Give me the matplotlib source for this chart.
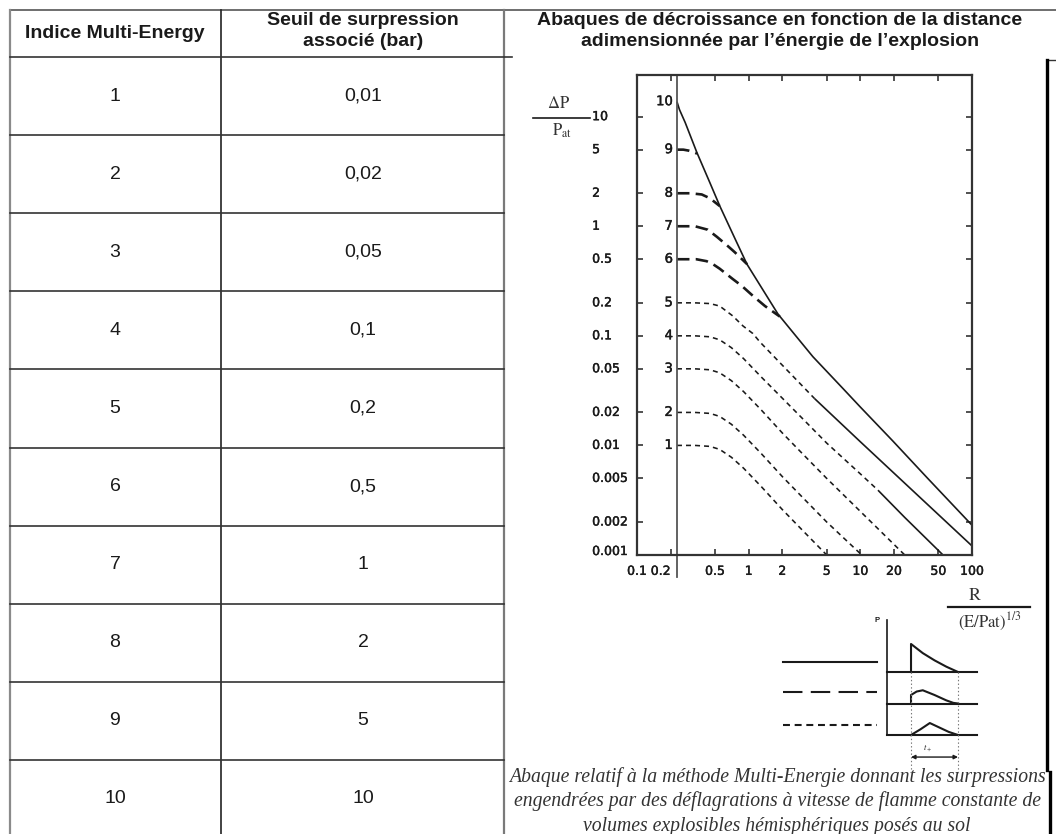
import numpy as np
import matplotlib
matplotlib.use('Agg')
import matplotlib.pyplot as plt
import matplotlib.patheffects as pe
from matplotlib.ticker import NullLocator

plt.rcParams['font.family'] = ['Liberation Sans', 'DejaVu Sans']
plt.rcParams['mathtext.fontset'] = 'stix'
plt.rcParams['lines.scale_dashes'] = False

W, H = 1056, 834
ink = '#1a1a1a'

# --- tableau ---
indices = ['1', '2', '3', '4', '5', '6', '7', '8', '9', '10']
seuils = ['0,01', '0,02', '0,05', '0,1', '0,2', '0,5', '1', '2', '5', '10']
header_1 = 'Indice Multi-Energy'
header_2 = 'Seuil de surpression\nassocié (bar)'
header_3 = ('Abaques de décroissance en fonction de la distance\n'
            'adimensionnée par l\u2019énergie de l\u2019explosion')
caption = ['Abaque relatif à la méthode Multi-Energie donnant les surpressions',
           'engendrées par des déflagrations à vitesse de flamme constante de',
           'volumes explosibles hémisphériques posés au sol']

# --- abaque multi-energie ---
x_tick_vals = [0.2, 0.5, 1, 2, 5, 10, 20, 50]
x_label_vals = [0.1, 0.2, 0.5, 1, 2, 5, 10, 20, 50, 100]
x_labels = ['0.1', '0.2', '0.5', '1', '2', '5', '10', '20', '50', '100']
y_tick_vals = [10, 5, 2, 1, 0.5, 0.2, 0.1, 0.05, 0.02, 0.01, 0.005, 0.002]
y_label_vals = [10, 5, 2, 1, 0.5, 0.2, 0.1, 0.05, 0.02, 0.01, 0.005, 0.002, 0.001]
y_labels = ['10', '5', '2', '1', '0.5', '0.2', '0.1', '0.05', '0.02', '0.01',
            '0.005', '0.002', '0.001']

r0 = 0.228

c10_x = [0.228, 0.24, 0.27, 0.344, 0.45, 0.553, 0.75, 0.966, 1.35, 1.83, 2.6,
         3.76, 7, 10, 19.5, 40, 100]
c10_y = [13.7, 11.6, 8.85, 4.7, 2.49, 1.52, 0.78, 0.45, 0.26, 0.158, 0.102,
         0.0645, 0.033, 0.0224, 0.011, 0.00502, 0.00187]
c9_x = [0.228, 0.26, 0.29, 0.32, 0.345]
c9_y = [5.0, 5.0, 4.9, 4.75, 4.6]
c8_x = [0.228, 0.30, 0.38, 0.45, 0.55]
c8_y = [2.0, 2.0, 1.95, 1.8, 1.53]
c7_x = [0.228, 0.33, 0.43, 0.52, 0.65, 0.75, 0.97]
c7_y = [1.0, 1.0, 0.93, 0.8, 0.66, 0.58, 0.45]
c6_x = [0.228, 0.34, 0.42, 0.48, 0.55, 0.72, 0.87, 1.1, 1.4, 1.9]
c6_y = [0.5, 0.5, 0.48, 0.45, 0.41, 0.33, 0.285, 0.23, 0.187, 0.15]
c5_x = [0.228, 0.33, 0.45, 0.55, 0.72, 0.89, 1.09, 1.26, 2.0, 3.9, 10, 30, 100]
c5_y = [0.2, 0.2, 0.197, 0.187, 0.152, 0.123, 0.105, 0.088, 0.054, 0.0267,
        0.0108, 0.0038, 0.00121]
c4_x = [0.228, 0.33, 0.45, 0.55, 0.7, 0.9, 1.3, 2.0, 3.0, 5.0, 10, 14.4, 25, 55]
c4_y = [0.1, 0.1, 0.098, 0.092, 0.078, 0.062, 0.042, 0.027, 0.0178, 0.0105,
        0.0055, 0.0039, 0.0022, 0.001]
c3_x = [0.228, 0.33, 0.45, 0.55, 0.7, 0.9, 1.3, 2.0, 3.0, 5.0, 10, 25]
c3_y = [0.05, 0.05, 0.049, 0.046, 0.039, 0.031, 0.021, 0.013, 0.0085, 0.005,
        0.0025, 0.001]
c2_x = [0.228, 0.33, 0.45, 0.55, 0.7, 0.9, 1.3, 2.0, 3.0, 5.0, 10.3]
c2_y = [0.02, 0.02, 0.0196, 0.0184, 0.0156, 0.0124, 0.0084, 0.0052, 0.0034,
        0.002, 0.001]
c1_x = [0.228, 0.33, 0.45, 0.55, 0.7, 0.9, 1.3, 2.0, 3.0, 5.0]
c1_y = [0.01, 0.01, 0.0098, 0.0092, 0.0078, 0.0062, 0.0042, 0.0026, 0.0017, 0.001]
c5_solid_from = 3.9
c4_solid_from = 14.4

# --- schema P(t) ---
shock_t = [0, 0, 0.25, 0.5, 0.75, 1.0]
shock_p = [0, 0.89, 0.6, 0.37, 0.17, 0]
press_t = [0, 0, 0.12, 0.25, 0.5, 0.75, 0.9, 1.0]
press_p = [0, 0.27, 0.38, 0.42, 0.27, 0.1, 0.02, 0]
sonic_t = [0, 0.2, 0.4, 0.6, 0.8, 1.0]
sonic_p = [0, 0.18, 0.38, 0.24, 0.1, 0]

fig = plt.figure(figsize=(W / 100, H / 100), dpi=100)

bg = fig.add_axes([0, 0, 1, 1])
bg.set_xlim(0, W)
bg.set_ylim(H, 0)
bg.axis('off')

# grille du tableau
row_top, row_h = 57, 78.1
bg.plot([10, W], [10, 10], color='#555555', lw=1.2)
bg.plot([10, 10], [10, H], color='#8a8a8a', lw=1.6)
bg.plot([221, 221], [10, H], color='#222222', lw=1.2)
bg.plot([504, 504], [10, H], color='#7a7a7a', lw=1.6)
bg.plot([10, 512], [row_top, row_top], color='#333333', lw=1.2)
for i in range(1, len(indices)):
    y = row_top + i * row_h
    bg.plot([10, 504], [y, y], color='#333333', lw=1.2)

bg.text(115, 33, header_1, ha='center', va='center', fontsize=14,
        fontweight='bold', color=ink)
bg.text(363, 31, header_2, ha='center', va='center', fontsize=14,
        fontweight='bold', color=ink, linespacing=1.28)
bg.text(780, 31, header_3, ha='center', va='center', fontsize=14,
        fontweight='bold', color=ink, linespacing=1.28)
for i, (a, b) in enumerate(zip(indices, seuils)):
    yc = row_top + (i + 0.5) * row_h
    bg.text(115, yc, a, ha='center', va='center', fontsize=14, color=ink)
    bg.text(363, yc, b, ha='center', va='center', fontsize=14, color=ink)

# cadre de l'image à droite
bg.plot([1047, W], [60, 60], color='#333333', lw=1.0)
bg.plot([1047, 1047], [60, 770], color='black', lw=2.4)
bg.plot([1050, 1050], [772, H], color='black', lw=2.4)

for k, line in enumerate(caption):
    bg.text(777, 777 + 24.5 * k, line, ha='center', va='center',
            family='Liberation Serif', style='italic', fontsize=14.2, color='#333333')

# titres des axes
bg.text(559, 103, r'$\Delta\mathrm{P}$', ha='center', va='center', fontsize=12, color='#333333')
bg.plot([533, 590], [118, 118], color=ink, lw=1.2)
bg.text(562, 131, r'$\mathrm{P}_{\mathrm{at}}$', ha='center', va='center', fontsize=12, color='#333333')
bg.text(975, 595, r'$\mathrm{R}$', ha='center', va='center', fontsize=13, color='#333333')
bg.plot([948, 1030], [607, 607], color=ink, lw=1.6)
bg.text(990, 622, r'$\mathrm{(E/Pat)}^{1/3}$', ha='center', va='center', fontsize=12, color='#333333')

# --- abaque ---
ax = fig.add_axes([637 / W, 1 - 555 / H, 335 / W, 480 / H])
ax.set_xscale('log')
ax.set_yscale('log')
ax.set_xlim(0.1, 100)
ax.set_ylim(0.001, 24)
ax.set_xticks(x_tick_vals)
ax.set_yticks(y_tick_vals)
ax.xaxis.set_minor_locator(NullLocator())
ax.yaxis.set_minor_locator(NullLocator())
ax.tick_params(which='both', direction='in', length=4, width=1.2, color='#333333',
               top=True, right=True, labelbottom=False, labelleft=False)
for s in ax.spines.values():
    s.set_linewidth(1.6)
    s.set_color('#333333')
ax.set_facecolor('none')

solid = dict(color=ink, lw=1.2, solid_capstyle='butt')
long_dash = dict(color=ink, lw=1.9, dashes=(9, 4.5))
short_dash = dict(color=ink, lw=1.15, dashes=(3.6, 2.9))

ax.plot(c10_x, c10_y, **solid)
for cx, cy in [(c9_x, c9_y), (c8_x, c8_y), (c7_x, c7_y), (c6_x, c6_y)]:
    ax.plot(cx, cy, **long_dash)
for cx, cy in [(c3_x, c3_y), (c2_x, c2_y), (c1_x, c1_y)]:
    ax.plot(cx, cy, **short_dash)
for cx, cy, cut in [(c5_x, c5_y, c5_solid_from), (c4_x, c4_y, c4_solid_from)]:
    k = cx.index(cut)
    ax.plot(cx[:k + 1], cy[:k + 1], **short_dash)
    ax.plot(cx[k:], cy[k:], **solid)

ax.axvline(r0, ymin=-0.046, ymax=1, color='#555555', lw=1.3, clip_on=False)

bold_fx = [pe.withStroke(linewidth=0.3, foreground=ink)]
starts = [c1_y[0], c2_y[0], c3_y[0], c4_y[0], c5_y[0], c6_y[0], c7_y[0],
          c8_y[0], c9_y[0], c10_y[0]]
for n, yv in enumerate(starts, start=1):
    ax.annotate(str(n), xy=(r0, yv), xytext=(-4, 0), textcoords='offset pixels',
                ha='right', va='center', fontsize=9.5, family='DejaVu Sans',
                color=ink, path_effects=bold_fx)

xt = ax.get_xaxis_transform()
for v, lab in zip(x_label_vals, x_labels):
    ax.text(v, -0.034, lab, transform=xt, ha='right' if lab == '0.2' else 'center',
            va='center', fontsize=9, family='DejaVu Sans', color=ink,
            path_effects=bold_fx)
yt = ax.get_yaxis_transform()
for v, lab in zip(y_label_vals, y_labels):
    ax.text(-0.134, v, lab, transform=yt, ha='left',
            va='baseline' if v == 0.001 else 'center',
            fontsize=9, family='DejaVu Sans', color=ink, path_effects=bold_fx)

# --- schema P(t) ---
pt = fig.add_axes([779 / W, 1 - 782 / H, 202 / W, 170 / H])
pt.set_xlim(-2.809, 1.489)
pt.set_ylim(-3.492, 1.905)
pt.axis('off')
lw_pt = 1.5
pt.plot([-0.51, -0.51], [1.65, -2], color=ink, lw=1.2)
for base in [0, -1, -2]:
    pt.plot([-0.51, 1.4], [base, base], color=ink, lw=lw_pt)
pt.plot(shock_t, shock_p, color=ink, lw=lw_pt)
pt.plot(press_t, np.array(press_p) - 1, color=ink, lw=lw_pt)
pt.plot(sonic_t, np.array(sonic_p) - 2, color=ink, lw=lw_pt)
pt.plot([-2.72, -0.72], [0.32, 0.32], color=ink, lw=lw_pt)
pt.plot([-2.72, -0.72], [-0.65, -0.65], color=ink, lw=lw_pt, dashes=(14, 6))
pt.plot([-2.72, -0.72], [-1.68, -1.68], color=ink, lw=lw_pt, dashes=(5, 3.4))
for tv in [0, 1]:
    pt.plot([tv, tv], [0, -3.27], color='#777777', lw=0.8, linestyle=':')
pt.annotate('', xy=(0, -2.7), xytext=(1, -2.7),
            arrowprops=dict(arrowstyle='<|-|>', lw=1.0, color=ink,
                            mutation_scale=6, shrinkA=0, shrinkB=0))
pt.text(0.35, -2.4, r'$t_+$', fontsize=6, ha='center', va='center', color=ink)
pt.text(-0.72, 1.62, 'P', fontsize=5.5, fontweight='bold', ha='center', va='center', color=ink)

fig.savefig('out.png', dpi=100)
